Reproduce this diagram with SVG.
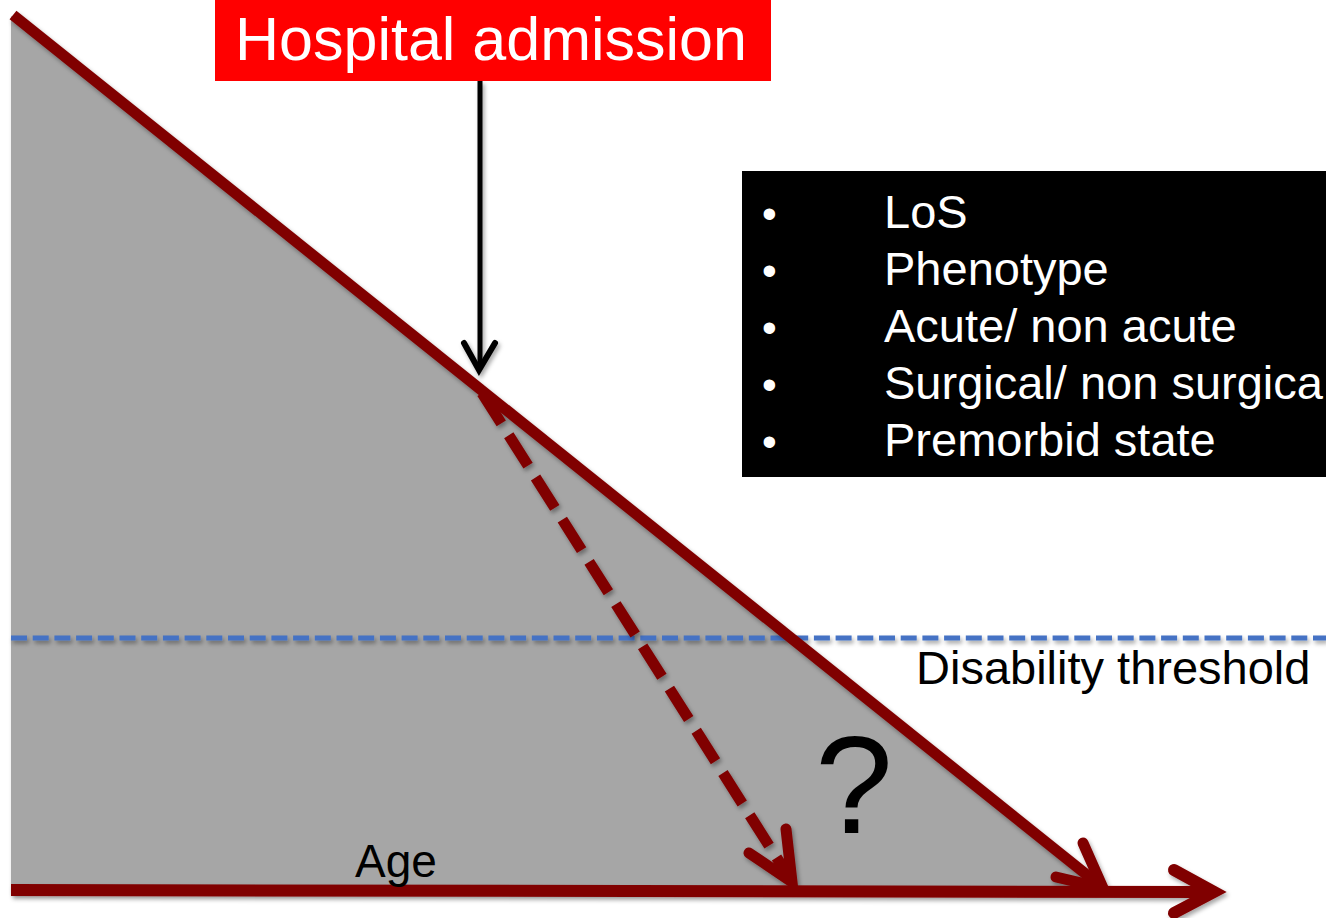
<svg xmlns="http://www.w3.org/2000/svg" width="1326" height="918" viewBox="0 0 1326 918">
  <style>
    .sans { font-family: "Liberation Sans", Arial, sans-serif; }
    .maroon { stroke: #800000; fill: none; }
    .head { stroke: #800000; fill: none; stroke-linecap: round; stroke-linejoin: miter; stroke-miterlimit: 10; }
    .white { fill: #FFFFFF; }
    .black { fill: #000000; }
  </style>
  <defs>
    <filter id="soft" filterUnits="userSpaceOnUse" x="0" y="0" width="1326" height="918">
      <feDropShadow dx="2" dy="3" stdDeviation="2" flood-color="#000" flood-opacity="0.35"/>
    </filter>
  </defs>

  <rect width="1326" height="918" fill="#FFFFFF"/>

  <!-- decline region -->
  <g id="decline-area" filter="url(#soft)">
    <polygon points="11,16 11,892 1100,892" fill="#A6A6A6"/>
  </g>

  <!-- disability threshold -->
  <g id="threshold">
    <g filter="url(#soft)">
      <line x1="11" y1="638" x2="1326" y2="638" stroke="#4472C4" stroke-width="5" stroke-dasharray="16 5.7"/>
    </g>
    <text class="sans black" x="916" y="684" font-size="47">Disability threshold</text>
  </g>

  <!-- connectors -->
  <g id="connectors" filter="url(#soft)">
    <!-- age axis -->
    <line class="maroon" x1="11" y1="890" x2="1210" y2="892" stroke-width="12"/>
    <polyline class="head" points="1174,870 1214,892 1174,913" stroke-width="12"/>
    <!-- expected trajectory -->
    <line class="maroon" x1="13" y1="15" x2="1097" y2="883" stroke-width="11"/>
    <polyline class="head" points="1083,843 1103,888 1056,877" stroke-width="11"/>
    <!-- accelerated decline after admission -->
    <line class="maroon" x1="482" y1="393" x2="787" y2="874" stroke-width="11" stroke-dasharray="36 14"/>
    <polyline class="head" points="786,829 792,882 749,853" stroke-width="11"/>
    <!-- admission pointer -->
    <line x1="480" y1="81" x2="480" y2="368" stroke="#000000" stroke-width="5"/>
    <polyline points="464,343 479,370 495,343" fill="none" stroke="#000000" stroke-width="6" stroke-linecap="round" stroke-linejoin="miter"/>
  </g>

  <!-- admission label -->
  <g id="admission">
    <rect x="215" y="0" width="556" height="81" fill="#FF0000"/>
    <text class="sans white" x="235" y="60" font-size="61">Hospital admission</text>
  </g>

  <!-- factors list -->
  <g id="factors">
    <rect x="742" y="171" width="584" height="306" fill="#000000"/>
    <g class="sans white" font-size="47">
      <text x="762" y="228" font-size="42">•</text>
      <text x="884" y="228">LoS</text>
      <text x="762" y="285" font-size="42">•</text>
      <text x="884" y="285">Phenotype</text>
      <text x="762" y="342" font-size="42">•</text>
      <text x="884" y="342">Acute/ non acute</text>
      <text x="762" y="399" font-size="42">•</text>
      <text x="884" y="399">Surgical/ non surgica</text>
      <text x="762" y="456" font-size="42">•</text>
      <text x="884" y="456">Premorbid state</text>
    </g>
  </g>

  <!-- labels -->
  <g id="question">
    <text class="sans black" x="815" y="833" font-size="140">?</text>
  </g>
  <g id="age-label">
    <text class="sans black" x="355" y="877" font-size="46">Age</text>
  </g>
</svg>
